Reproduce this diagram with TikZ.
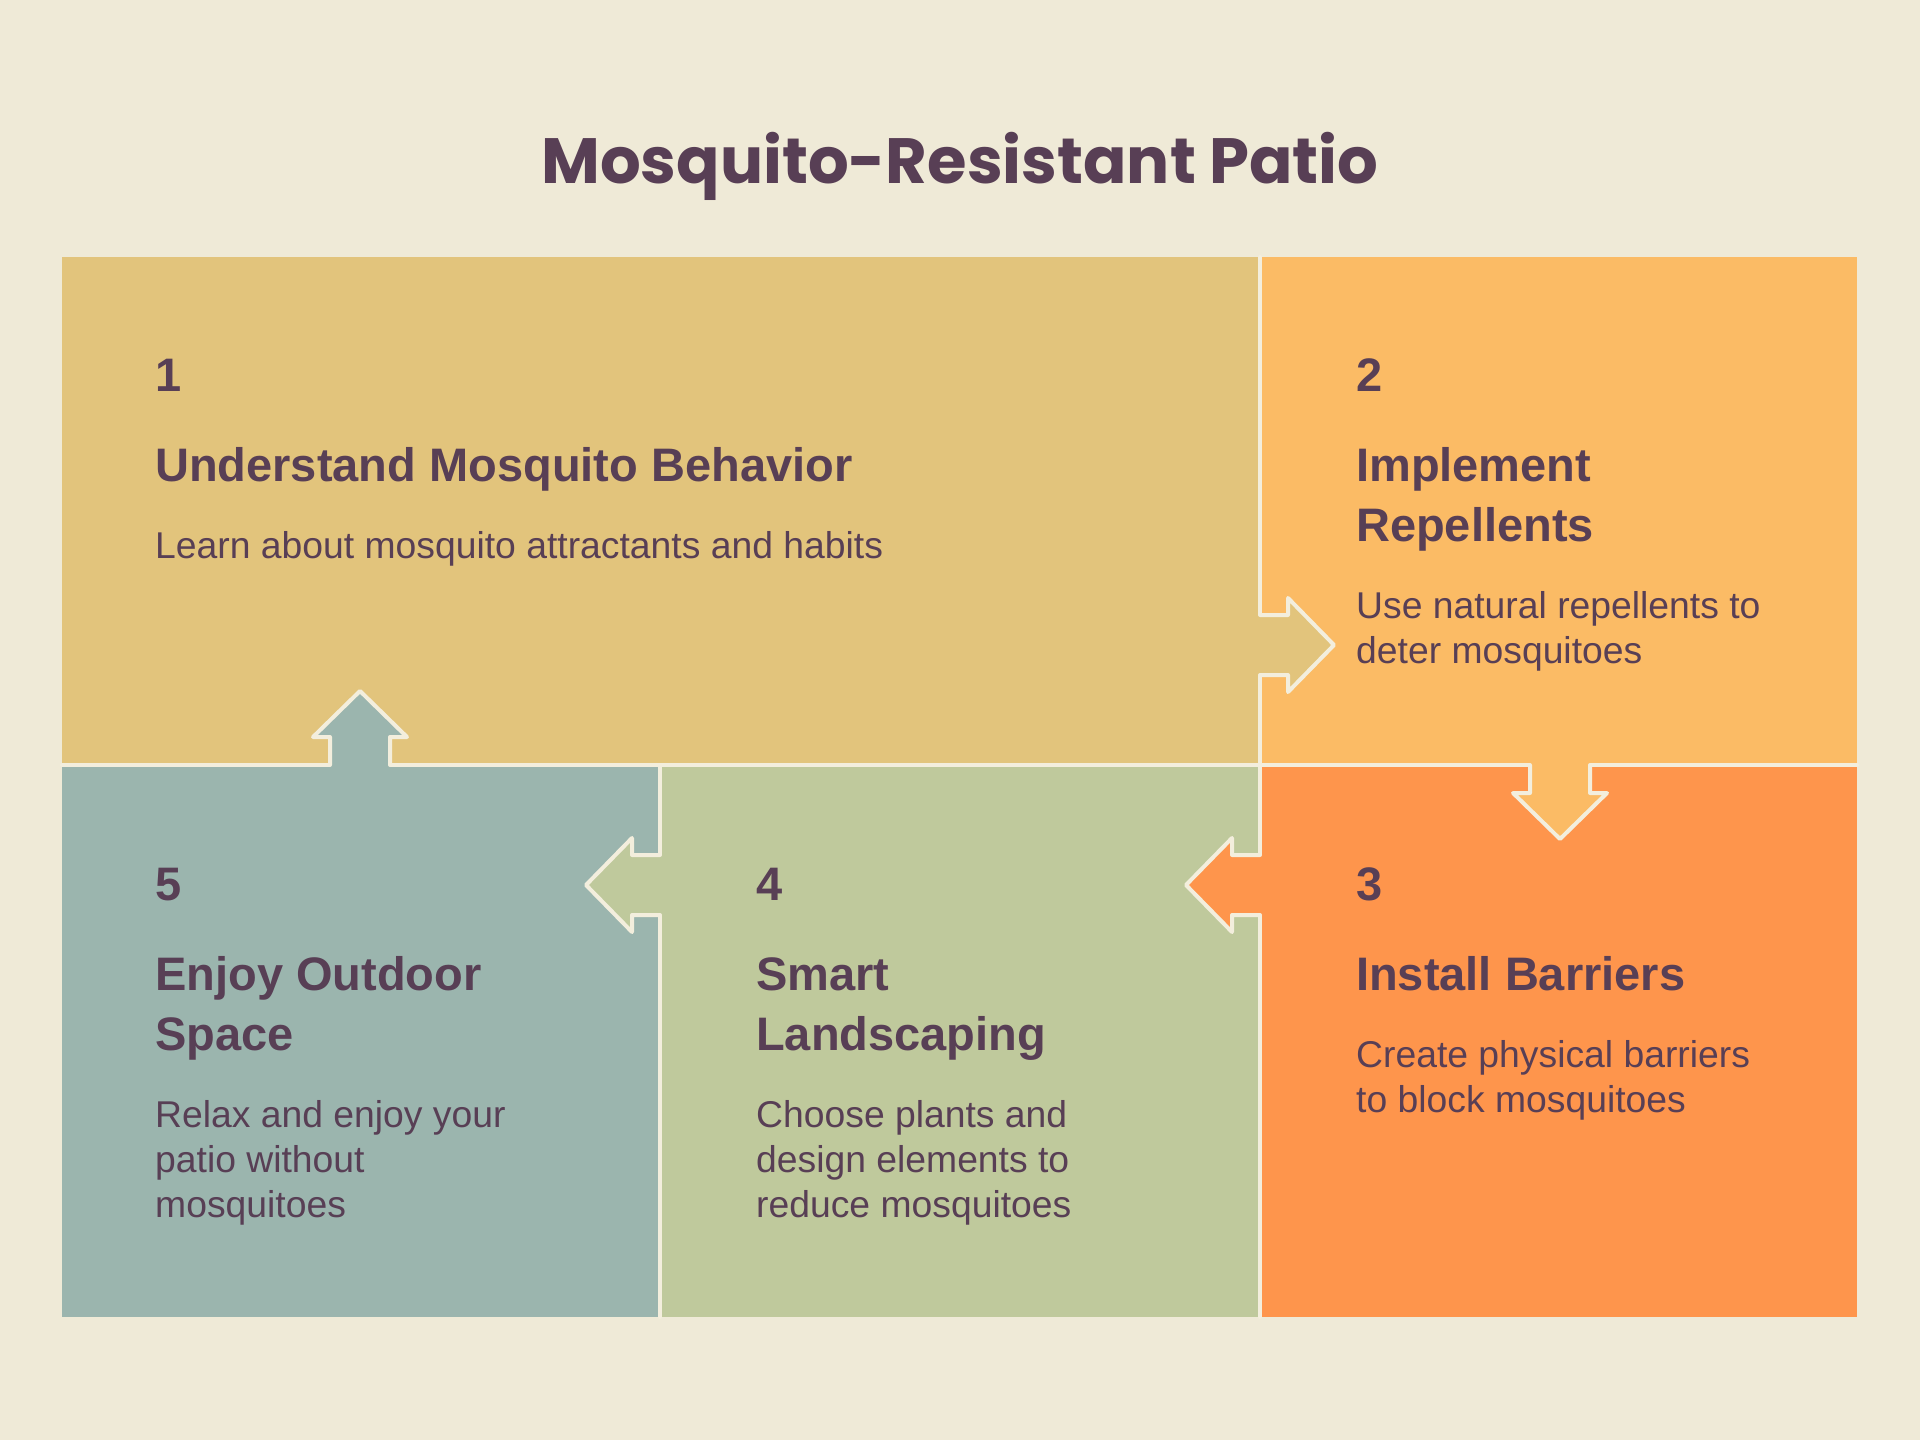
\documentclass[tikz,border=0pt]{standalone}
\usepackage{fontspec}
\setmainfont{Liberation Sans}
\newfontfamily\titlefont{Poppins}
\definecolor{bg}{HTML}{EFEAD7}
\definecolor{ink}{HTML}{583F55}
\definecolor{seamc}{HTML}{F3EEDD}
\definecolor{learnc}{HTML}{E2C47C}
\definecolor{repelc}{HTML}{FBBB65}
\definecolor{barrierc}{HTML}{FE954C}
\definecolor{landc}{HTML}{BFC99C}
\definecolor{enjoyc}{HTML}{9BB5AE}
\begin{document}
\begin{tikzpicture}[x=1pt,y=-1pt,
    seam/.style={draw=seamc,line width=4pt,line cap=round,line join=round},
    num/.style={anchor=base west,inner sep=0pt,text=ink,font=\bfseries\fontsize{47}{60}\selectfont},
    head/.style={anchor=base west,inner sep=0pt,text=ink,align=left,font=\bfseries\fontsize{47}{60}\selectfont},
    body/.style={anchor=base west,inner sep=0pt,text=ink,align=left,font=\fontsize{37.3}{45}\selectfont}]
    % Background
    \fill[bg] (0,0) rectangle (1920,1440);
    \useasboundingbox (0,0) rectangle (1920,1440);

    % Title
    \node[anchor=base,inner sep=0pt,text=ink,font=\titlefont\bfseries\fontsize{64}{70}\selectfont] (title) at (960,183) {Mosquito-Resistant Patio};

    % Boxes
    \fill[learnc] (62,257) rectangle (1260,765);
    \fill[repelc] (1260,257) rectangle (1857,765);
    \fill[barrierc] (1260,765) rectangle (1857,1317);
    \fill[landc] (660,765) rectangle (1260,1317);
    \fill[enjoyc] (62,765) rectangle (660,1317);

    % Seams between the boxes
    \draw[seam] (1260,257) -- (1260,1317);
    \draw[seam] (62,765) -- (1857,765);
    \draw[seam] (660,765) -- (660,1317);

    % Arrows through the seams (1 to 2, 2 to 3, 3 to 4, 4 to 5, 5 to 1)
    \fill[learnc] (1256,615) -- ++(32,0) -- ++(0,-17) -- ++(46,47) -- ++(-46,47) -- ++(0,-17) -- ++(-32,0) -- cycle;
    \draw[seam] (1260,615) -- ++(28,0) -- ++(0,-17) -- ++(46,47) -- ++(-46,47) -- ++(0,-17) -- ++(-28,0);
    \fill[repelc] (1530,761) -- ++(0,32) -- ++(-17,0) -- ++(47,46) -- ++(47,-46) -- ++(-17,0) -- ++(0,-32) -- cycle;
    \draw[seam] (1530,765) -- ++(0,28) -- ++(-17,0) -- ++(47,46) -- ++(47,-46) -- ++(-17,0) -- ++(0,-28);
    \fill[barrierc] (1264,855) -- ++(-32,0) -- ++(0,-17) -- ++(-46,47) -- ++(46,47) -- ++(0,-17) -- ++(32,0) -- cycle;
    \draw[seam] (1260,855) -- ++(-28,0) -- ++(0,-17) -- ++(-46,47) -- ++(46,47) -- ++(0,-17) -- ++(28,0);
    \fill[landc] (664,855) -- ++(-32,0) -- ++(0,-17) -- ++(-46,47) -- ++(46,47) -- ++(0,-17) -- ++(32,0) -- cycle;
    \draw[seam] (660,855) -- ++(-28,0) -- ++(0,-17) -- ++(-46,47) -- ++(46,47) -- ++(0,-17) -- ++(28,0);
    \fill[enjoyc] (330,769) -- ++(0,-32) -- ++(-17,0) -- ++(47,-46) -- ++(47,46) -- ++(-17,0) -- ++(0,32) -- cycle;
    \draw[seam] (330,765) -- ++(0,-28) -- ++(-17,0) -- ++(47,-46) -- ++(47,46) -- ++(-17,0) -- ++(0,28);

    % Step 1
    \node[num] (n1) at (155,391) {1};
    \node[head] (h1) at (155,481) {Understand Mosquito Behavior};
    \node[body] (t1) at (155,558) {Learn about mosquito attractants and habits};

    % Step 2
    \node[num] (n2) at (1356,391) {2};
    \node[head] (h2) at (1356,541) {Implement\\Repellents};
    \node[body] (t2) at (1356,663) {Use natural repellents to\\deter mosquitoes};

    % Step 3
    \node[num] (n3) at (1356,900) {3};
    \node[head] (h3) at (1356,990) {Install Barriers};
    \node[body] (t3) at (1356,1112) {Create physical barriers\\to block mosquitoes};

    % Step 4
    \node[num] (n4) at (756,900) {4};
    \node[head] (h4) at (756,1050) {Smart\\Landscaping};
    \node[body] (t4) at (756,1217) {Choose plants and\\design elements to\\reduce mosquitoes};

    % Step 5
    \node[num] (n5) at (155,900) {5};
    \node[head] (h5) at (155,1050) {Enjoy Outdoor\\Space};
    \node[body] (t5) at (155,1217) {Relax and enjoy your\\patio without\\mosquitoes};
\end{tikzpicture}
\end{document}
